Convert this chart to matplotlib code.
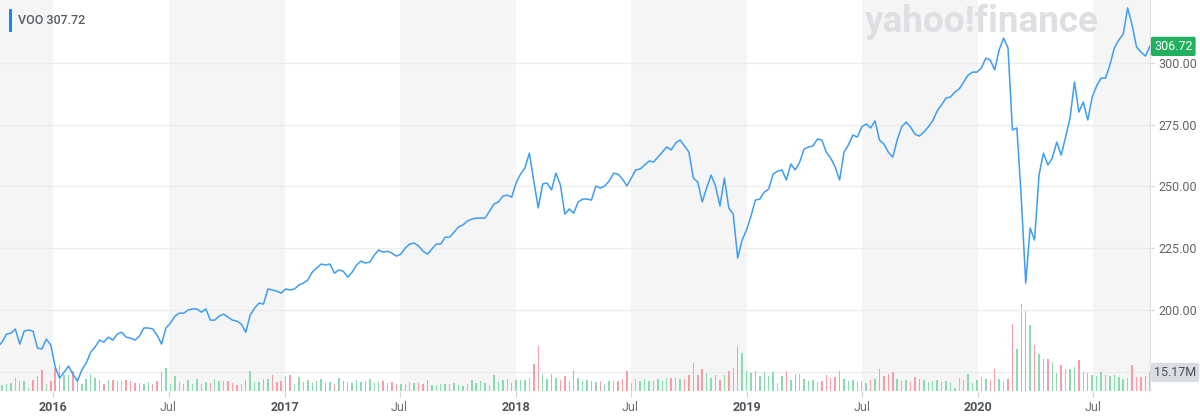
import numpy as np
import pandas as pd
import matplotlib
matplotlib.use("Agg")
import matplotlib.pyplot as plt
import matplotlib.transforms as mtransforms

plt.rcParams['font.family'] = ['Roboto', 'DejaVu Sans']

# weekly bars, Monday dates
weeks = pd.date_range("2015-10-05", periods=261, freq="7D")

close = [
    185.0, 187.0, 190.2, 190.6, 192.3, 186.2, 191.4, 191.9, 191.4, 184.6,
    184.2, 188.2, 185.8, 176.9, 172.4, 174.8, 177.3, 174.0, 171.2, 175.7,
    178.5, 182.9, 185.0, 187.8, 187.0, 189.0, 187.8, 190.2, 191.0, 189.0,
    188.6, 187.8, 189.4, 192.7, 192.7, 192.3, 189.8, 186.2, 192.7, 194.7,
    197.5, 198.7, 198.7, 200.0, 200.4, 200.4, 199.1, 200.4, 195.9, 195.9,
    197.5, 198.3, 197.1, 195.9, 195.5, 194.3, 191.0, 197.9, 200.8, 202.8,
    202.4, 208.5, 208.1, 207.6, 206.8, 208.5, 208.1, 208.5, 210.1, 210.9,
    212.1, 215.3, 217.0, 218.6, 218.2, 218.6, 214.9, 216.2, 215.7, 213.3,
    215.3, 218.2, 219.8, 219.0, 219.4, 222.2, 224.3, 223.4, 223.8, 223.0,
    221.8, 222.6, 225.1, 226.7, 227.1, 225.9, 223.8, 222.6, 224.7, 226.7,
    226.7, 229.5, 229.5, 231.5, 233.6, 234.4, 236.0, 236.8, 237.2, 237.2,
    237.2, 240.0, 242.9, 243.7, 246.1, 246.5, 245.7, 251.4, 255.0, 257.5,
    263.5, 252.2, 241.3, 251.0, 251.4, 248.6, 255.4, 250.6, 238.8, 240.9,
    239.2, 243.7, 244.9, 244.9, 244.5, 250.2, 249.4, 250.2, 252.2, 255.4,
    255.0, 253.0, 250.2, 253.4, 256.7, 257.1, 258.7, 260.3, 259.9, 261.9,
    263.9, 266.0, 264.8, 267.6, 268.8, 266.4, 263.9, 253.4, 251.8, 243.7,
    249.4, 254.6, 250.2, 242.1, 253.4, 241.3, 238.8, 221.0, 228.3, 232.4,
    238.0, 244.5, 244.9, 247.7, 249.0, 255.0, 256.2, 256.7, 252.6, 259.1,
    256.7, 259.9, 265.2, 266.0, 266.4, 269.2, 268.8, 263.9, 261.5, 257.9,
    252.6, 263.9, 266.8, 270.8, 270.0, 274.1, 275.3, 273.7, 276.5, 268.8,
    267.2, 263.9, 261.9, 268.8, 274.1, 276.1, 274.1, 271.2, 270.4, 272.0,
    274.1, 276.5, 280.5, 283.0, 285.8, 286.2, 288.2, 289.5, 292.3, 295.1,
    296.3, 296.3, 298.0, 302.0, 301.2, 297.2, 305.3, 310.1, 306.1, 272.9,
    273.7, 245.3, 210.9, 233.2, 228.3, 254.6, 263.5, 258.7, 261.5, 268.0,
    262.7, 270.0, 277.7, 292.3, 280.1, 284.2, 276.9, 286.2, 290.7, 293.9,
    293.9, 299.2, 306.1, 309.3, 311.7, 322.3, 315.4, 306.5, 304.4, 302.8, 306.72,
]

# weekly volume, millions
volume_m = [
    4.9, 4.7, 5.5, 6.8, 10.4, 8.4, 8.2, 2.7, 9.3, 12.5,
    17.5, 6.0, 8.0, 18.9, 21.6, 12.9, 12.9, 16.2, 10.9, 6.0,
    9.6, 13.7, 10.7, 8.8, 5.5, 9.3, 8.8, 8.2, 8.2, 8.8,
    8.2, 6.8, 6.8, 6.0, 7.4, 6.0, 8.2, 15.6, 18.9, 6.0,
    12.1, 7.4, 6.0, 8.8, 6.0, 9.6, 6.0, 7.4, 6.6, 10.1,
    8.2, 8.0, 8.0, 6.6, 4.7, 6.0, 9.3, 16.2, 7.4, 7.4,
    9.6, 10.1, 12.9, 7.4, 8.2, 12.1, 13.4, 6.0, 11.5, 7.4,
    9.0, 6.6, 8.2, 9.8, 6.6, 7.4, 5.7, 10.7, 8.2, 7.4,
    6.6, 9.0, 7.4, 8.2, 9.8, 6.6, 7.4, 8.2, 6.6, 7.4,
    5.7, 6.0, 6.0, 7.4, 6.8, 6.8, 6.0, 8.8, 5.2, 5.2,
    5.5, 6.0, 6.0, 6.6, 5.2, 3.9, 6.0, 8.8, 6.6, 8.2,
    6.8, 4.7, 13.4, 7.4, 9.3, 9.6, 6.6, 8.8, 8.8, 9.3,
    10.7, 21.9, 36.9, 14.2, 9.6, 13.7, 10.7, 8.8, 12.3, 8.2,
    17.5, 10.7, 8.2, 9.3, 8.2, 7.4, 8.2, 6.0, 8.2, 8.2,
    8.2, 10.1, 16.4, 6.6, 9.6, 8.2, 9.6, 8.2, 8.0, 9.6,
    8.2, 10.9, 10.7, 10.7, 9.6, 10.1, 12.9, 23.2, 12.9, 17.8,
    15.0, 10.7, 12.9, 9.3, 12.9, 16.2, 18.9, 36.9, 31.4, 16.4,
    14.8, 16.4, 12.3, 15.6, 12.3, 15.6, 6.8, 12.1, 16.4, 9.3,
    13.7, 14.2, 9.8, 8.2, 9.0, 7.4, 8.2, 13.1, 10.7, 11.5,
    16.4, 9.8, 8.2, 9.0, 7.4, 8.2, 6.6, 9.0, 9.8, 18.0,
    12.3, 13.9, 15.6, 9.8, 8.2, 9.0, 7.4, 11.5, 9.8, 9.0,
    7.4, 8.2, 9.0, 7.4, 8.2, 7.4, 2.7, 10.9, 9.0, 13.7,
    6.3, 8.8, 11.5, 10.1, 9.0, 17.8, 10.1, 7.6, 10.1, 55.2,
    34.2, 71.6, 65.6, 53.9, 37.7, 30.6, 26.5, 26.0, 23.8, 14.8,
    21.3, 18.3, 17.8, 19.7, 25.2, 15.6, 15.0, 12.9, 12.3, 15.8,
    12.9, 12.3, 12.9, 11.5, 9.6, 10.9, 21.3, 11.5, 11.5, 12.3, 15.17,
]

tick_dates = ["2016-01-01", "2016-07-01", "2017-01-01", "2017-07-01", "2018-01-01",
              "2018-07-01", "2019-01-01", "2019-07-01", "2020-01-01", "2020-07-01"]
tick_labels = ["2016", "Jul", "2017", "Jul", "2018", "Jul", "2019", "Jul", "2020", "Jul"]
price_ticks = [200, 225, 250, 275, 300]
shaded = [("2015-09-01", "2016-01-01"), ("2016-07-01", "2017-01-01"),
          ("2017-07-01", "2018-01-01"), ("2018-07-01", "2019-01-01"),
          ("2019-07-01", "2020-01-01"), ("2020-07-01", "2020-12-31")]
symbol = "VOO"
header_price = "307.72"

fig = plt.figure(figsize=(12, 4.19), dpi=100)
rect = [0, 28 / 419, 1150 / 1200, 391 / 419]
axv = fig.add_axes(rect)
ax = fig.add_axes(rect, sharex=axv)
ax.patch.set_visible(False)

# background bands
for a, b in shaded:
    axv.axvspan(pd.Timestamp(a), pd.Timestamp(b), color="#f5f5f5", lw=0, zorder=0)

# volume
chg = np.diff(np.r_[close[0], close])
vol_colors = np.where(chg >= 0, "#8adcae", "#f99ca5")
axv.bar(weeks, volume_m, width=2.3, color=vol_colors, lw=0, zorder=2)
axv.axhline(volume_m[-1], color="#ececec", lw=1, zorder=1)
axv.set_ylim(0, 320)
axv.set_yticks([])
for s in axv.spines.values():
    s.set_visible(False)
axv.tick_params(axis="x", which="both", bottom=False, labelbottom=False)

# watermark
axv.text(865 / 1150, 1 - 32 / 391, "yahoo!finance", transform=axv.transAxes,
         fontsize=26.5, fontweight="bold", color="#dddfe3", ha="left",
         va="baseline", zorder=1)

# price
ax.plot(weeks, close, color="#3d9df3", lw=1.1, zorder=3)
ax.set_ylim(167.2, 325.5)
ax.set_xlim(weeks[0] + pd.Timedelta(days=3.8), weeks[-1] + pd.Timedelta(days=0.3))
ax.yaxis.tick_right()
ax.set_yticks(price_ticks)
ax.set_yticklabels([f"{v:.2f}" for v in price_ticks])
ax.grid(axis="y", color="#ececec", lw=1)
ax.tick_params(axis="y", direction="out", length=3, color="#d5d5d5",
               labelcolor="#5f656b", labelsize=9, pad=3)
ax.set_xticks(pd.to_datetime(tick_dates))
ax.set_xticklabels(tick_labels)
ax.tick_params(axis="x", direction="out", length=4, color="#d5d5d5", labelsize=9, pad=3)
for lab in ax.get_xticklabels():
    if lab.get_text() == "Jul":
        lab.set_color("#6c7176")
    else:
        lab.set_color("#4f5459")
        lab.set_fontweight("bold")
for name in ["top", "left", "bottom"]:
    ax.spines[name].set_visible(False)
ax.spines["right"].set_color("#e1e1e1")

# last value tags
tr = mtransforms.blended_transform_factory(ax.transAxes, ax.transData)
ax.text(1.0 + 4 / 1150, close[-1], f"{close[-1]:.2f}", transform=tr, color="white",
        fontsize=9, ha="left", va="center", clip_on=False,
        bbox=dict(boxstyle="round,pad=0.25,rounding_size=0.15", fc="#21b05e", ec="none"))
trv = mtransforms.blended_transform_factory(axv.transAxes, axv.transData)
axv.text(1.0 + 4 / 1150, volume_m[-1], f"{volume_m[-1]:.2f}M", transform=trv,
         color="#464e56", fontsize=9, ha="left", va="center", clip_on=False, zorder=5,
         bbox=dict(boxstyle="round,pad=0.25,rounding_size=0.15", fc="#d9dce0", ec="none"))

# header
fig.patches.append(matplotlib.patches.FancyBboxPatch(
    (9 / 1200, 1 - 32 / 419), 3 / 1200, 23 / 419, transform=fig.transFigure,
    boxstyle="round,pad=0,rounding_size=0.001", fc="#1a86f0", ec="none"))
fig.text(18 / 1200, 1 - 20.5 / 419, f"{symbol} {header_price}", fontsize=9,
         fontweight="medium", color="#545b63", ha="left", va="center")

fig.savefig("out.png", dpi=100)
